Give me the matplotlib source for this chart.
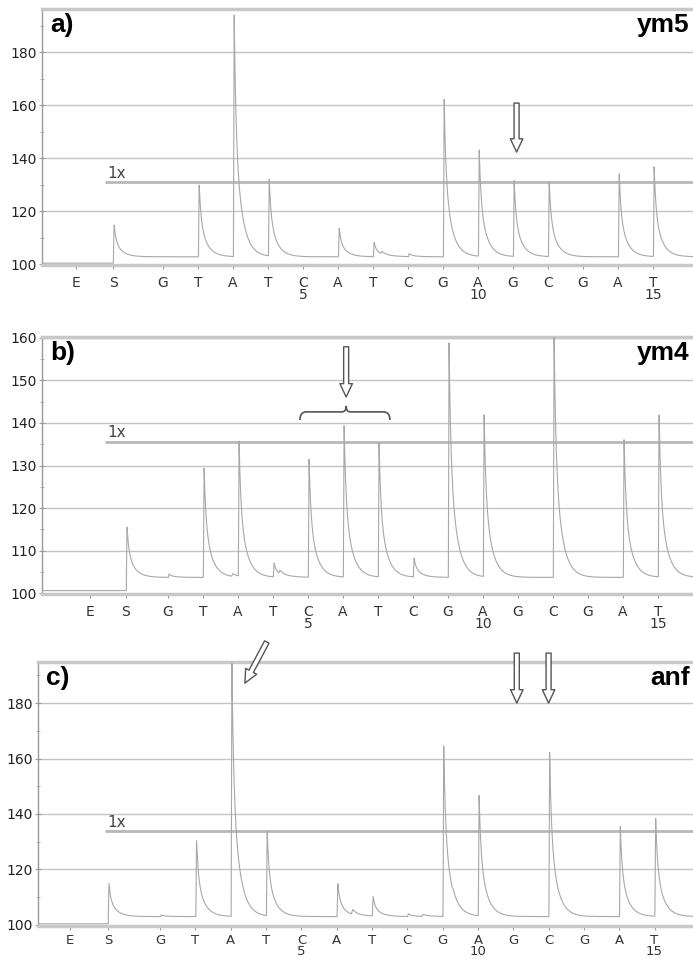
import numpy as np
import matplotlib.pyplot as plt
from matplotlib.path import Path
from matplotlib.patches import PathPatch

# dispensation order (E = enzyme, S = substrate, then the nucleotides)
tick_labels = ['E', 'S', 'G', 'T', 'A', 'T', 'C\n5', 'A', 'T', 'C', 'G',
               'A\n10', 'G', 'C', 'G', 'A', 'T\n15']

# peak tops for E, S and dispensations 1..15 (same level as baseline = no peak)
tops_ym5 = [100.4, 115.0, 102.8, 130.5, 195.0, 132.5, 102.8, 113.8, 108.3,
            104.0, 162.5, 143.8, 131.5, 131.5, 102.8, 134.7, 136.6]
tops_ym4 = [100.6, 115.6, 104.5, 130.0, 135.6, 107.0, 131.5, 140.0, 135.3,
            108.2, 158.8, 142.4, 103.7, 161.0, 103.7, 136.5, 142.6]
tops_anf = [100.4, 115.0, 103.6, 130.6, 196.0, 133.5, 103.0, 115.0, 110.0,
            104.0, 164.8, 147.6, 103.0, 162.3, 103.0, 135.7, 139.3]

# baseline before / after the substrate is added
base_ym5 = (100.4, 102.8)
base_ym4 = (100.6, 103.7)
base_anf = (100.4, 103.0)

# small extra bumps (position, top)
bumps_ym5 = [(7.25, 104.5)]
bumps_ym4 = [(2.85, 104.8), (4.2, 105.0)]
bumps_anf = [(6.45, 106.0), (8.45, 104.2), (9.3, 104.5)]

# "1x" reference level
onex_ym5 = 131.0
onex_ym4 = 135.5
onex_anf = 133.9

panels = [
    dict(tag='a)', name='ym5', tops=tops_ym5, base=base_ym5, bumps=bumps_ym5,
         onex=onex_ym5, es=(-1.49, -0.43), xlim=(-2.46, 16.14),
         ylim=(99.7, 196.3), major=20, minor=10, onex_x=-0.66,
         xpad=5, xsize=10, xspacing=0.8,
         rect=[42 / 693, 1 - 265 / 959, 651 / 693, 256 / 959]),
    dict(tag='b)', name='ym4', tops=tops_ym4, base=base_ym4, bumps=bumps_ym4,
         onex=onex_ym4, es=(-1.23, -0.2), xlim=(-2.6, 16.0),
         ylim=(99.8, 160.2), major=10, minor=5, onex_x=-0.8,
         xpad=5, xsize=10, xspacing=0.8,
         rect=[42 / 693, 1 - 594 / 959, 651 / 693, 257 / 959]),
    dict(tag='c)', name='anf', tops=tops_anf, base=base_anf, bumps=bumps_anf,
         onex=onex_anf, es=(-1.56, -0.48), xlim=(-2.46, 16.09),
         ylim=(99.6, 194.8), major=20, minor=10, onex_x=-0.57,
         xpad=3, xsize=9.5, xspacing=0.72,
         rect=[38 / 693, 1 - 926 / 959, 655 / 693, 264 / 959]),
]


def peak(dx):
    # sharp rise, fast spike then slower tail
    out = np.zeros_like(dx)
    up = (dx >= -0.02) & (dx < 0)
    out[up] = (dx[up] + 0.02) / 0.02
    d = dx >= 0
    out[d] = 0.45 * np.exp(-dx[d] / 0.05) + 0.55 * np.exp(-dx[d] / 0.2)
    return out


def trace(p):
    pos = list(p['es']) + list(range(1, 16))
    x = np.linspace(p['xlim'][0], p['xlim'][1], 6000)
    b0, b1 = p['base']
    s_at = pos[1] + 0.03
    y = np.where(x < s_at - 0.02, b0, b1).astype(float)
    for xp, top in zip(pos[1:], p['tops'][1:]):
        y += (top - b1) * peak(x - xp - 0.03)
    for xp, top in p['bumps']:
        y += (top - b1) * 0.6 * peak((x - xp) * 0.6)
    return x, y, pos


def hollow_arrow(ax, tail, tip):
    ax.annotate('', xy=tip, xytext=tail, annotation_clip=False,
                arrowprops=dict(arrowstyle='simple,head_length=0.8,head_width=0.75,tail_width=0.3',
                                mutation_scale=12, fc='white', ec='#555555',
                                lw=1.0, shrinkA=0, shrinkB=0))


fig = plt.figure(figsize=(6.93, 9.59), dpi=100)
axes = []
for p in panels:
    ax = fig.add_axes(p['rect'])
    axes.append(ax)
    x, y, pos = trace(p)
    ax.plot(x, y, color='#a8a8a8', lw=0.8, zorder=3)
    ax.set_xlim(*p['xlim'])
    ax.set_ylim(*p['ylim'])

    yt = np.arange(100, p['ylim'][1] + 0.1, p['major'])
    ax.set_yticks(yt)
    ax.set_yticks(np.arange(100 + p['minor'], p['ylim'][1], p['major']), minor=True)
    for v in yt[1:]:
        ax.axhline(v, color='#c4c4c4', lw=1.0, zorder=1)
    ax.set_xticks(pos)
    ax.set_xticklabels(tick_labels)
    for lbl in ax.get_xticklabels():
        lbl.set_linespacing(p['xspacing'])

    ax.tick_params(axis='y', which='major', length=4, direction='inout',
                   colors='#999999', labelcolor='#222222', labelsize=10, pad=2)
    ax.tick_params(axis='y', which='minor', length=3, direction='inout', colors='#aaaaaa')
    ax.tick_params(axis='x', length=3, direction='out', colors='#999999',
                   labelcolor='#333333', labelsize=p['xsize'], pad=p['xpad'])

    ax.spines['right'].set_visible(False)
    ax.spines['left'].set_color('#999999')
    ax.spines['left'].set_linewidth(1.0)
    for s in ('top', 'bottom'):
        ax.spines[s].set_color('#c8c8c8')
        ax.spines[s].set_linewidth(2.5)

    # "1x" level line
    ax.plot([p['onex_x'], p['xlim'][1]], [p['onex'], p['onex']],
            color='#b8b8b8', lw=2.0, zorder=2, solid_capstyle='butt')
    ax.text(p['onex_x'] + 0.07, p['onex'] + 0.4, '1x', fontsize=11,
            color='#444444', ha='left', va='bottom')

    ax.text(0.012, 0.985, p['tag'], transform=ax.transAxes, fontsize=19,
            fontweight='bold', family='Liberation Sans', ha='left', va='top')
    ax.text(0.995, 0.985, p['name'], transform=ax.transAxes, fontsize=19,
            fontweight='bold', family='Liberation Sans', ha='right', va='top')

ax_a, ax_b, ax_c = axes

# a) single arrow over G11
hollow_arrow(ax_a, (11.1, 160.8), (11.1, 142.3))

# b) arrow and brace over C5-A6-T7
hollow_arrow(ax_b, (6.09, 157.9), (6.09, 146.1))
x1, xm, x2 = 4.77, 6.09, 7.34
yb, yl, yp = 140.7, 142.6, 144.0
verts = [(x1, yb), (x1, yl), (x1 + 0.18, yl),
         (xm - 0.12, yl), (xm, yl), (xm, yp),
         (xm, yl), (xm + 0.12, yl),
         (x2 - 0.18, yl), (x2, yl), (x2, yb)]
codes = [Path.MOVETO, Path.CURVE3, Path.CURVE3,
         Path.LINETO, Path.CURVE3, Path.CURVE3,
         Path.CURVE3, Path.CURVE3,
         Path.LINETO, Path.CURVE3, Path.CURVE3]
ax_b.add_patch(PathPatch(Path(verts, codes), fc='none', ec='#555555', lw=1.2, zorder=4))

# c) diagonal arrow at A3, two arrows over G11 and C12
hollow_arrow(ax_c, (4.02, 202.0), (3.4, 187.2))
hollow_arrow(ax_c, (11.1, 198.0), (11.1, 180.0))
hollow_arrow(ax_c, (12.0, 198.0), (12.0, 180.0))

fig.savefig('out.png', dpi=100)
